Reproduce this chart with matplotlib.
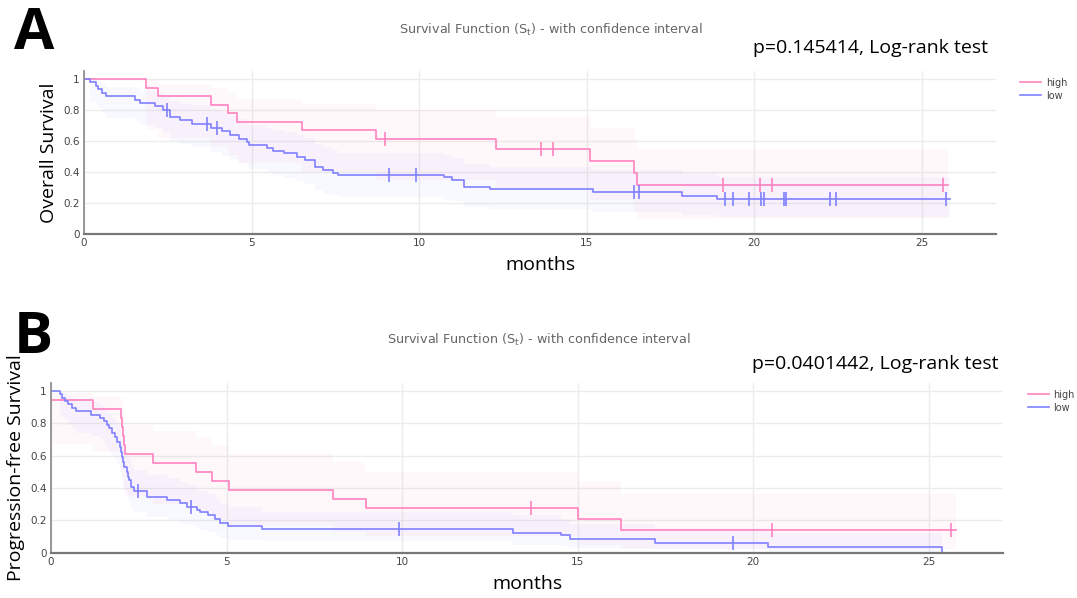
import numpy as np
import matplotlib
matplotlib.use("Agg")
import matplotlib.pyplot as plt

# ---- panel A: overall survival ----
os_high_t = [0, 1.84, 2.22, 3.78, 4.31, 4.56, 6.51, 8.71, 12.3, 15.09, 16.4, 16.5, 25.77]
os_high_s = [1.0, 0.944, 0.889, 0.833, 0.778, 0.722, 0.667, 0.611, 0.55, 0.471, 0.393, 0.314, 0.314]
os_high_lo = [1.0, 0.67, 0.62, 0.57, 0.51, 0.46, 0.40, 0.35, 0.29, 0.22, 0.15, 0.10, 0.10]
os_high_hi = [1.0, 0.99, 0.97, 0.94, 0.91, 0.87, 0.84, 0.80, 0.755, 0.68, 0.61, 0.55, 0.55]
os_high_cens = [8.97, 13.65, 14.0, 19.08, 20.16, 20.54, 25.63]

os_low_t = [0, 0.18, 0.36, 0.43, 0.55, 0.66, 1.52, 1.67, 2.12, 2.37, 2.57, 2.87, 3.21,
            3.80, 4.11, 4.36, 4.61, 4.85, 4.93, 5.45, 5.63, 5.97, 6.35, 6.6, 6.9, 7.14,
            7.44, 7.59, 10.73, 10.98, 11.33, 12.1, 15.19, 17.84, 18.88, 25.85]
os_low_s = [1.0, 0.978, 0.956, 0.933, 0.911, 0.889, 0.867, 0.844, 0.822, 0.80, 0.755, 0.733, 0.711,
            0.686, 0.661, 0.637, 0.615, 0.594, 0.572, 0.551, 0.536, 0.519, 0.497, 0.476, 0.432, 0.411,
            0.394, 0.379, 0.364, 0.346, 0.303, 0.288, 0.267, 0.243, 0.222, 0.222]
os_low_lo = [1.0, 0.85, 0.83, 0.81, 0.78, 0.75, 0.73, 0.70, 0.68, 0.65, 0.60, 0.58, 0.56,
             0.53, 0.50, 0.48, 0.46, 0.44, 0.42, 0.40, 0.38, 0.36, 0.34, 0.32, 0.28, 0.26,
             0.25, 0.24, 0.22, 0.21, 0.17, 0.16, 0.14, 0.12, 0.11, 0.11]
os_low_hi = [1.0, 0.997, 0.99, 0.98, 0.965, 0.95, 0.94, 0.92, 0.91, 0.89, 0.86, 0.84, 0.83,
             0.80, 0.78, 0.76, 0.74, 0.72, 0.70, 0.68, 0.67, 0.66, 0.64, 0.62, 0.58, 0.56,
             0.54, 0.52, 0.51, 0.49, 0.45, 0.43, 0.41, 0.39, 0.37, 0.37]
os_low_cens = [2.49, 3.66, 3.96, 9.11, 9.9, 16.42, 16.55, 19.13, 19.38, 19.83, 20.2, 20.3,
               20.9, 20.94, 22.25, 22.44, 25.73]

# ---- panel B: progression-free survival ----
pfs_high_t = [0, 1.19, 1.98, 2.02, 2.05, 2.08, 2.12, 2.9, 4.13, 4.58, 5.08, 8.04, 8.97, 15.0, 16.24, 25.77]
pfs_high_s = [0.944, 0.889, 0.833, 0.778, 0.722, 0.667, 0.611, 0.556, 0.50, 0.444, 0.389, 0.333,
              0.278, 0.208, 0.139, 0.139]
pfs_high_lo = [0.67, 0.62, 0.57, 0.51, 0.46, 0.40, 0.35, 0.30, 0.26, 0.21, 0.17, 0.13, 0.10, 0.05, 0.02, 0.02]
pfs_high_hi = [0.99, 0.97, 0.94, 0.91, 0.87, 0.84, 0.79, 0.75, 0.71, 0.66, 0.61, 0.56, 0.50, 0.44, 0.36, 0.36]
pfs_high_cens = [13.67, 20.54, 25.64]

pfs_low_t = [0, 0.26, 0.30, 0.40, 0.49, 0.59, 0.71, 1.13, 1.40, 1.51, 1.59, 1.66, 1.73, 1.82,
             1.89, 1.95, 1.98, 2.01, 2.05, 2.08, 2.16, 2.20, 2.23, 2.27, 2.35, 2.73, 3.30,
             3.68, 3.87, 4.15, 4.25, 4.48, 4.67, 4.81, 5.05, 6.0, 13.17, 14.54, 14.79, 17.21,
             20.41, 25.37, 25.64]
pfs_low_s = [1.0, 0.979, 0.958, 0.938, 0.917, 0.896, 0.875, 0.854, 0.833, 0.813, 0.79, 0.77, 0.74,
             0.716, 0.685, 0.654, 0.625, 0.593, 0.562, 0.531, 0.50, 0.469, 0.449, 0.408, 0.38,
             0.346, 0.326, 0.305, 0.285, 0.264, 0.254, 0.233, 0.206, 0.182, 0.165, 0.145, 0.124,
             0.107, 0.083, 0.062, 0.033, 0.0, 0.0]
pfs_low_lo = [1.0, 0.86, 0.84, 0.82, 0.79, 0.77, 0.74, 0.72, 0.70, 0.67, 0.65, 0.62, 0.60, 0.57,
              0.54, 0.50, 0.48, 0.44, 0.41, 0.38, 0.36, 0.33, 0.31, 0.27, 0.25, 0.22, 0.20, 0.18,
              0.17, 0.15, 0.14, 0.13, 0.11, 0.09, 0.08, 0.07, 0.05, 0.04, 0.03, 0.02, 0.005, 0.0, 0.0]
pfs_low_hi = [1.0, 0.997, 0.99, 0.98, 0.97, 0.955, 0.94, 0.93, 0.91, 0.90, 0.88, 0.86, 0.84, 0.82,
              0.80, 0.77, 0.75, 0.72, 0.69, 0.66, 0.63, 0.60, 0.58, 0.54, 0.51, 0.48, 0.46, 0.44,
              0.42, 0.39, 0.38, 0.36, 0.33, 0.30, 0.28, 0.25, 0.23, 0.21, 0.18, 0.15, 0.12, 0.0, 0.0]
pfs_low_cens = [2.49, 3.98, 9.91, 19.42]

PINK = '#ff82c0'
BLUE = '#8080ff'
GRID = '#ececec'
TXT = '#444444'

fig = plt.figure(figsize=(10.77, 5.98), dpi=100, facecolor='white')


def km_panel(rect, xmax, groups, ylabel):
    ax = fig.add_axes(rect)
    for t, s, lo, hi, cens, col, name in groups:
        t = np.array(t); s = np.array(s)
        ax.fill_between(t, lo, hi, step='post', color=col, alpha=0.05, lw=0)
        ax.step(t, s, where='post', color=col, lw=1.2, label=name)
        idx = np.searchsorted(t, cens, side='right') - 1
        ax.plot(cens, s[idx], ls='none', marker='|', ms=10, mew=1.2, color=col)
    ax.set_xlim(0, xmax)
    ax.set_ylim(0, 1.05)
    ax.set_xticks([0, 5, 10, 15, 20, 25])
    ax.set_yticks([0, 0.2, 0.4, 0.6, 0.8, 1])
    ax.set_yticklabels(['0', '0.2', '0.4', '0.6', '0.8', '1'])
    ax.grid(True, color=GRID, lw=1)
    ax.set_axisbelow(True)
    for sp in ['top', 'right']:
        ax.spines[sp].set_visible(False)
    ax.spines['bottom'].set_color('#777777')
    ax.spines['bottom'].set_linewidth(1.6)
    ax.spines['left'].set_color('#888888')
    ax.spines['left'].set_linewidth(1.2)
    ax.tick_params(length=0, labelsize=7.5, labelcolor=TXT, pad=3)
    ax.set_xlabel('months', fontsize=14, family='Open Sans', labelpad=6)
    ax.set_ylabel(ylabel, fontsize=14, family='Open Sans', labelpad=4)
    return ax


axA = km_panel([0.078, 0.609, 0.847, 0.272], 27.22,
               [(os_high_t, os_high_s, os_high_lo, os_high_hi, os_high_cens, PINK, 'high'),
                (os_low_t, os_low_s, os_low_lo, os_low_hi, os_low_cens, BLUE, 'low')],
               'Overall Survival')
axB = km_panel([0.0474, 0.0758, 0.884, 0.284], 27.12,
               [(pfs_high_t, pfs_high_s, pfs_high_lo, pfs_high_hi, pfs_high_cens, PINK, 'high'),
                (pfs_low_t, pfs_low_s, pfs_low_lo, pfs_low_hi, pfs_low_cens, BLUE, 'low')],
               'Progression-free Survival')

axA.legend(loc='upper left', bbox_to_anchor=(1016 / 1077, 1 - 74 / 598), bbox_transform=fig.transFigure,
           frameon=False, fontsize=7, labelcolor=TXT, handlelength=2.2, handletextpad=0.5,
           labelspacing=0.3, borderaxespad=0)
axB.legend(loc='upper left', bbox_to_anchor=(1024 / 1077, 1 - 386 / 598), bbox_transform=fig.transFigure,
           frameon=False, fontsize=7, labelcolor=TXT, handlelength=2.2, handletextpad=0.4,
           labelspacing=0.3, borderaxespad=0)

title = 'Survival Function (S$_\\mathregular{t}$) - with confidence interval'
fig.text(551 / 1077, 1 - 30 / 598, title, ha='center', va='center', fontsize=9.2, color='#666666')
fig.text(539 / 1077, 1 - 340 / 598, title, ha='center', va='center', fontsize=9.2, color='#666666')

fig.text(988 / 1077, 1 - 48 / 598, 'p=0.145414, Log-rank test', ha='right', va='center',
         fontsize=14, family='Open Sans', color='black')
fig.text(998 / 1077, 1 - 364 / 598, 'p=0.0401442, Log-rank test', ha='right', va='center',
         fontsize=14, family='Open Sans', color='black')

fig.text(14 / 1077, 1 - 34 / 598, 'A', ha='left', va='center', fontsize=42, fontweight='bold',
         family='Open Sans', color='black')
fig.text(14 / 1077, 1 - 338 / 598, 'B', ha='left', va='center', fontsize=42, fontweight='bold',
         family='Open Sans', color='black')

fig.savefig('out.png', dpi=100, facecolor='white')
